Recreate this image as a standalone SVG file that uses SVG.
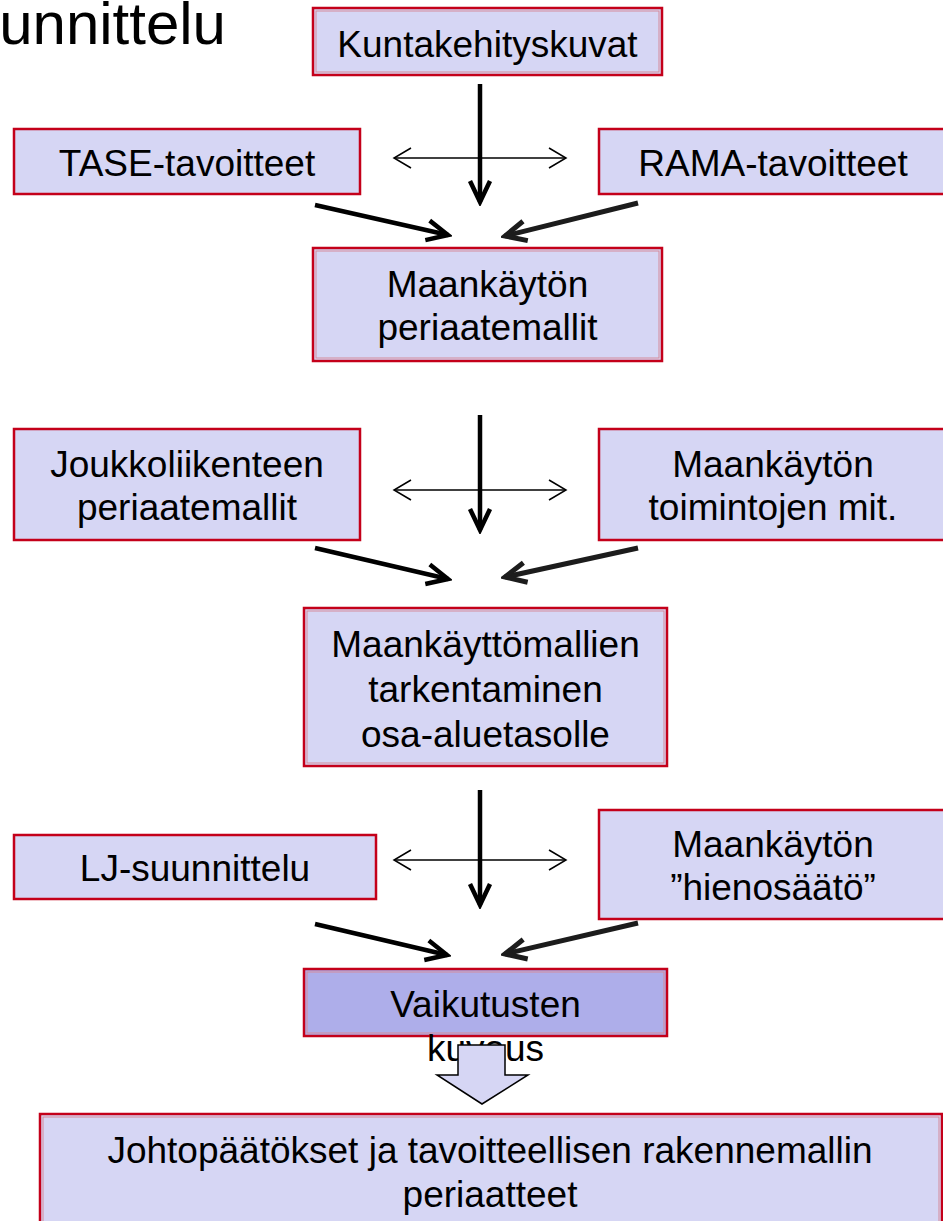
<svg xmlns="http://www.w3.org/2000/svg" width="943" height="1221" viewBox="0 0 943 1221">
<style>
.box{fill:#d6d6f4;stroke:#c4001a;stroke-width:2.5}
.box2{fill:#aeaeea;stroke:#c4001a;stroke-width:2.5}
.inner{fill:none;stroke:#d58a9a;stroke-width:1}
.t{font-family:"Liberation Sans",Arial,sans-serif;font-size:37px;fill:#000;text-anchor:middle}
.thick{stroke:#000;stroke-width:4.5;fill:none;marker-end:url(#hd)}
.rough{stroke:#1c1c1c;stroke-width:5;fill:none;marker-end:url(#hd2)}
.thin{stroke:#000;stroke-width:1.5;fill:none;marker-start:url(#hs);marker-end:url(#hs)}
</style>
<defs>
<marker id="hd" markerUnits="userSpaceOnUse" viewBox="-26 -14 30 28" refX="0" refY="0" markerWidth="30" markerHeight="28" orient="auto">
<path d="M-21,-10 L0,0 L-21,10" fill="none" stroke="#000" stroke-width="4.5" stroke-linejoin="miter"/>
</marker>
<marker id="hd2" markerUnits="userSpaceOnUse" viewBox="-26 -14 30 28" refX="0" refY="0" markerWidth="30" markerHeight="28" orient="auto">
<path d="M-21,-10 L0,0 L-21,10" fill="none" stroke="#1c1c1c" stroke-width="5" stroke-linejoin="miter"/>
</marker>
<marker id="hs" markerUnits="userSpaceOnUse" viewBox="-20 -12 22 24" refX="0" refY="0" markerWidth="22" markerHeight="24" orient="auto-start-reverse">
<path d="M-17,-10 L0,0 L-17,10" fill="none" stroke="#000" stroke-width="1.5"/>
</marker>
</defs>
<rect width="943" height="1221" fill="#fff"/>
<text x="226" y="44" font-family="Liberation Sans,Arial,sans-serif" font-size="60" text-anchor="end" fill="#000">unnittelu</text>

<g id="kuntakehityskuvat">
<rect class="box" x="313" y="8" width="349" height="67"/>
<rect class="inner" x="316" y="11" width="343" height="61"/>
<text class="t" x="487.5" y="57">Kuntakehityskuvat</text>
</g>
<g id="tase">
<rect class="box" x="14" y="129" width="346" height="65"/>
<text class="t" x="187" y="176">TASE-tavoitteet</text>
</g>
<g id="rama">
<rect class="box" x="599" y="129" width="360" height="65"/>
<text class="t" x="773" y="176">RAMA-tavoitteet</text>
</g>
<g id="maankaytto-periaatemallit">
<rect class="box" x="313" y="248" width="349" height="113"/>
<rect class="inner" x="316" y="251" width="343" height="107"/>
<text class="t" x="487.5" y="297">Maankäytön</text>
<text class="t" x="487.5" y="340">periaatemallit</text>
</g>
<g id="joukkoliikenne">
<rect class="box" x="14" y="429" width="346" height="111"/>
<text class="t" x="187" y="477">Joukkoliikenteen</text>
<text class="t" x="187" y="520">periaatemallit</text>
</g>
<g id="toiminnot">
<rect class="box" x="599" y="429" width="360" height="111"/>
<text class="t" x="773" y="477">Maankäytön</text>
<text class="t" x="773" y="520">toimintojen mit.</text>
</g>
<g id="tarkentaminen">
<rect class="box" x="304" y="608" width="363" height="158"/>
<rect class="inner" x="307" y="611" width="357" height="152"/>
<text class="t" x="485.5" y="657">Maankäyttömallien</text>
<text class="t" x="485.5" y="702">tarkentaminen</text>
<text class="t" x="485.5" y="747">osa-aluetasolle</text>
</g>
<g id="lj">
<rect class="box" x="14" y="835" width="362" height="64"/>
<text class="t" x="195" y="881">LJ-suunnittelu</text>
</g>
<g id="hienosaato">
<rect class="box" x="599" y="810" width="360" height="109"/>
<text class="t" x="773" y="857">Maankäytön</text>
<text class="t" x="773" y="900">”hienosäätö”</text>
</g>
<g id="vaikutusten">
<rect class="box2" x="304" y="969" width="363" height="67"/>
<rect class="inner" x="307" y="972" width="357" height="61"/>
<text class="t" x="485.5" y="1017">Vaikutusten</text>
<text class="t" x="485.5" y="1061">kuvaus</text>
</g>
<g id="johtopaatokset">
<rect class="box" x="40" y="1114" width="902" height="120"/>
<rect class="inner" x="43" y="1117" width="896" height="114"/>
<text class="t" x="490" y="1163">Johtopäätökset ja tavoitteellisen rakennemallin</text>
<text class="t" x="490" y="1207">periaatteet</text>
</g>

<g id="connectors">
<line class="thick" x1="480" y1="84" x2="480" y2="202"/>
<line class="thin" x1="394" y1="158" x2="566" y2="158"/>
<line class="thick" x1="315" y1="205" x2="448" y2="235"/>
<line class="rough" x1="638" y1="203" x2="505" y2="236"/>

<line class="thick" x1="480" y1="415" x2="480" y2="530"/>
<line class="thin" x1="394" y1="490" x2="566" y2="490"/>
<line class="thick" x1="315" y1="548" x2="448" y2="579"/>
<line class="rough" x1="638" y1="548" x2="505" y2="577"/>

<line class="thick" x1="480" y1="790" x2="480" y2="905"/>
<line class="thin" x1="394" y1="860" x2="566" y2="860"/>
<line class="thick" x1="315" y1="924" x2="447" y2="955"/>
<line class="rough" x1="638" y1="923" x2="505" y2="954"/>

<polygon points="458,1045 505,1045 505,1075 528,1075 482,1104 437,1075 458,1075" fill="#d6d6f4" stroke="#000" stroke-width="1.5"/>
</g>
</svg>
